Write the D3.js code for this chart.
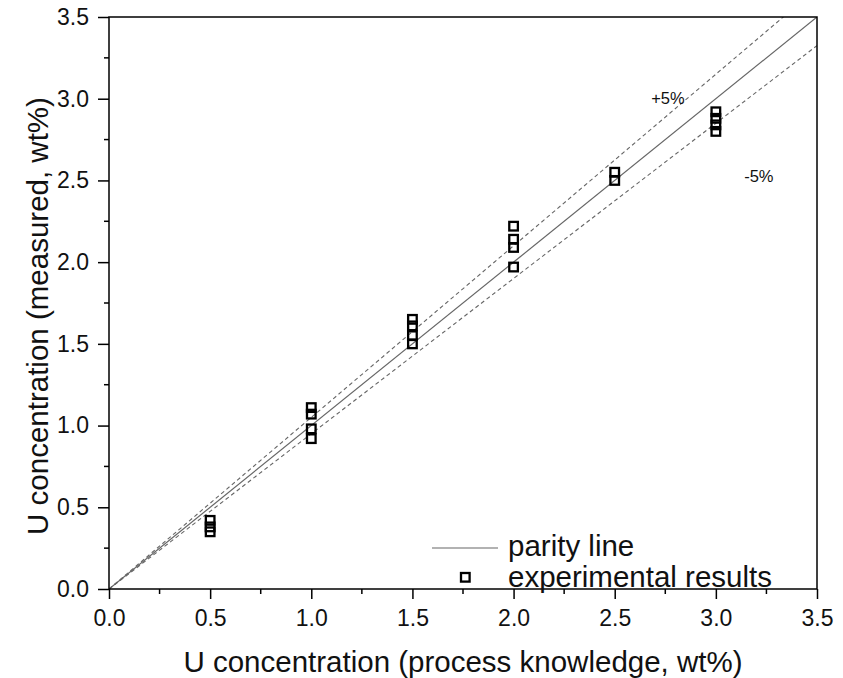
<!DOCTYPE html>
<html>
<head>
<meta charset="utf-8">
<script src="https://cdn.jsdelivr.net/npm/d3@7"></script>
<style>
  body { margin: 0; background: #fff; }
  svg text { font-family: "Liberation Sans", Arial, sans-serif; fill: #111; }
</style>
</head>
<body>
<div id="chart"></div>
<script>
// valeurs
const processX = [0.5, 1.0, 1.5, 2.0, 2.5, 3.0];
const measured = [
  [0.42, 0.38, 0.35],
  [1.11, 1.07, 0.98, 0.92],
  [1.65, 1.61, 1.55, 1.50],
  [2.22, 2.14, 2.09, 1.97],
  [2.55, 2.50],
  [2.92, 2.88, 2.84, 2.80]
];
const tickValues = [0.0, 0.5, 1.0, 1.5, 2.0, 2.5, 3.0, 3.5];
const minorTicks = [0.25, 0.75, 1.25, 1.75, 2.25, 2.75, 3.25];
const bandFactors = [1.05, 0.95];
const bandLabels = ["+5%", "-5%"];
const legendLabels = ["parity line", "experimental results"];

const width = 843, height = 678;
const margin = {top: 17, right: 26, bottom: 89, left: 109};

const svg = d3.select("#chart")
  .append("svg")
  .attr("width", width)
  .attr("height", height);

const x = d3.scaleLinear().domain([0, 3.5]).range([margin.left, width - margin.right]);
const y = d3.scaleLinear().domain([0, 3.5]).range([height - margin.bottom, margin.top]);

svg.append("defs").append("clipPath").attr("id", "clip")
  .append("rect")
  .attr("x", x(0)).attr("y", y(3.5))
  .attr("width", x(3.5) - x(0)).attr("height", y(0) - y(3.5));

const plot = svg.append("g").attr("clip-path", "url(#clip)");

// droite de parité
plot.append("line")
  .attr("x1", x(0)).attr("y1", y(0))
  .attr("x2", x(3.5)).attr("y2", y(3.5))
  .attr("stroke", "#666").attr("stroke-width", 1.2);

// lignes +/- 5 %
bandFactors.forEach(f => {
  plot.append("line")
    .attr("x1", x(0)).attr("y1", y(0))
    .attr("x2", x(3.5)).attr("y2", y(3.5 * f))
    .attr("stroke", "#666").attr("stroke-width", 1.1)
    .attr("stroke-dasharray", "4,3");
});

svg.append("text").attr("x", x(2.68)).attr("y", y(2.97))
  .attr("font-size", 16.5).text(bandLabels[0]);
svg.append("text").attr("x", x(3.14)).attr("y", y(2.49))
  .attr("font-size", 16.5).text(bandLabels[1]);

// points expérimentaux
const points = [];
processX.forEach((px, i) => measured[i].forEach(v => points.push({x: px, y: v})));

svg.selectAll(".pt")
  .data(points)
  .enter()
  .append("rect")
  .attr("class", "pt")
  .attr("x", d => x(d.x) - 4.3)
  .attr("y", d => y(d.y) - 4.3)
  .attr("width", 8.6).attr("height", 8.6)
  .attr("fill", "none")
  .attr("stroke", "#000")
  .attr("stroke-width", 2.3);

// axes
const xAxis = d3.axisBottom(x).tickValues(tickValues).tickFormat(d3.format(".1f"))
  .tickSize(10).tickPadding(11).tickSizeOuter(0);
const yAxis = d3.axisLeft(y).tickValues(tickValues).tickFormat(d3.format(".1f"))
  .tickSize(11).tickPadding(9).tickSizeOuter(0);

const gx = svg.append("g").attr("transform", `translate(0,${y(0)})`).call(xAxis);
const gy = svg.append("g").attr("transform", `translate(${x(0)},0)`).call(yAxis);

[gx, gy].forEach(g => {
  g.select(".domain").remove();
  g.selectAll("line").attr("stroke", "#000").attr("stroke-width", 1.5);
  g.selectAll("text").attr("font-size", 23).attr("fill", "#111")
    .style("font-family", "'Liberation Sans', Arial, sans-serif");
});

svg.selectAll(".minx").data(minorTicks).enter().append("line")
  .attr("x1", d => x(d)).attr("x2", d => x(d))
  .attr("y1", y(0)).attr("y2", y(0) + 5)
  .attr("stroke", "#000").attr("stroke-width", 1.5);
svg.selectAll(".miny").data(minorTicks).enter().append("line")
  .attr("y1", d => y(d)).attr("y2", d => y(d))
  .attr("x1", x(0)).attr("x2", x(0) - 5)
  .attr("stroke", "#000").attr("stroke-width", 1.5);

// cadre
svg.append("rect")
  .attr("x", x(0)).attr("y", y(3.5))
  .attr("width", x(3.5) - x(0)).attr("height", y(0) - y(3.5))
  .attr("fill", "none").attr("stroke", "#000").attr("stroke-width", 1.5);

// titres des axes
svg.append("text")
  .attr("x", (x(0) + x(3.5)) / 2).attr("y", 672)
  .attr("text-anchor", "middle").attr("font-size", 29.5)
  .text("U concentration (process knowledge, wt%)");

svg.append("text")
  .attr("transform", "translate(48,316) rotate(-90)")
  .attr("text-anchor", "middle").attr("font-size", 29.5)
  .text("U concentration (measured, wt%)");

// légende
const lg = svg.append("g");
lg.append("line").attr("x1", 432).attr("x2", 498).attr("y1", 548).attr("y2", 548)
  .attr("stroke", "#666").attr("stroke-width", 1.2);
lg.append("text").attr("x", 508).attr("y", 556).attr("font-size", 29.5).text(legendLabels[0]);
lg.append("rect").attr("x", 461).attr("y", 573).attr("width", 8.6).attr("height", 8.6)
  .attr("fill", "none").attr("stroke", "#000").attr("stroke-width", 2.3);
lg.append("text").attr("x", 508).attr("y", 587).attr("font-size", 29.5).text(legendLabels[1]);
</script>
</body>
</html>
